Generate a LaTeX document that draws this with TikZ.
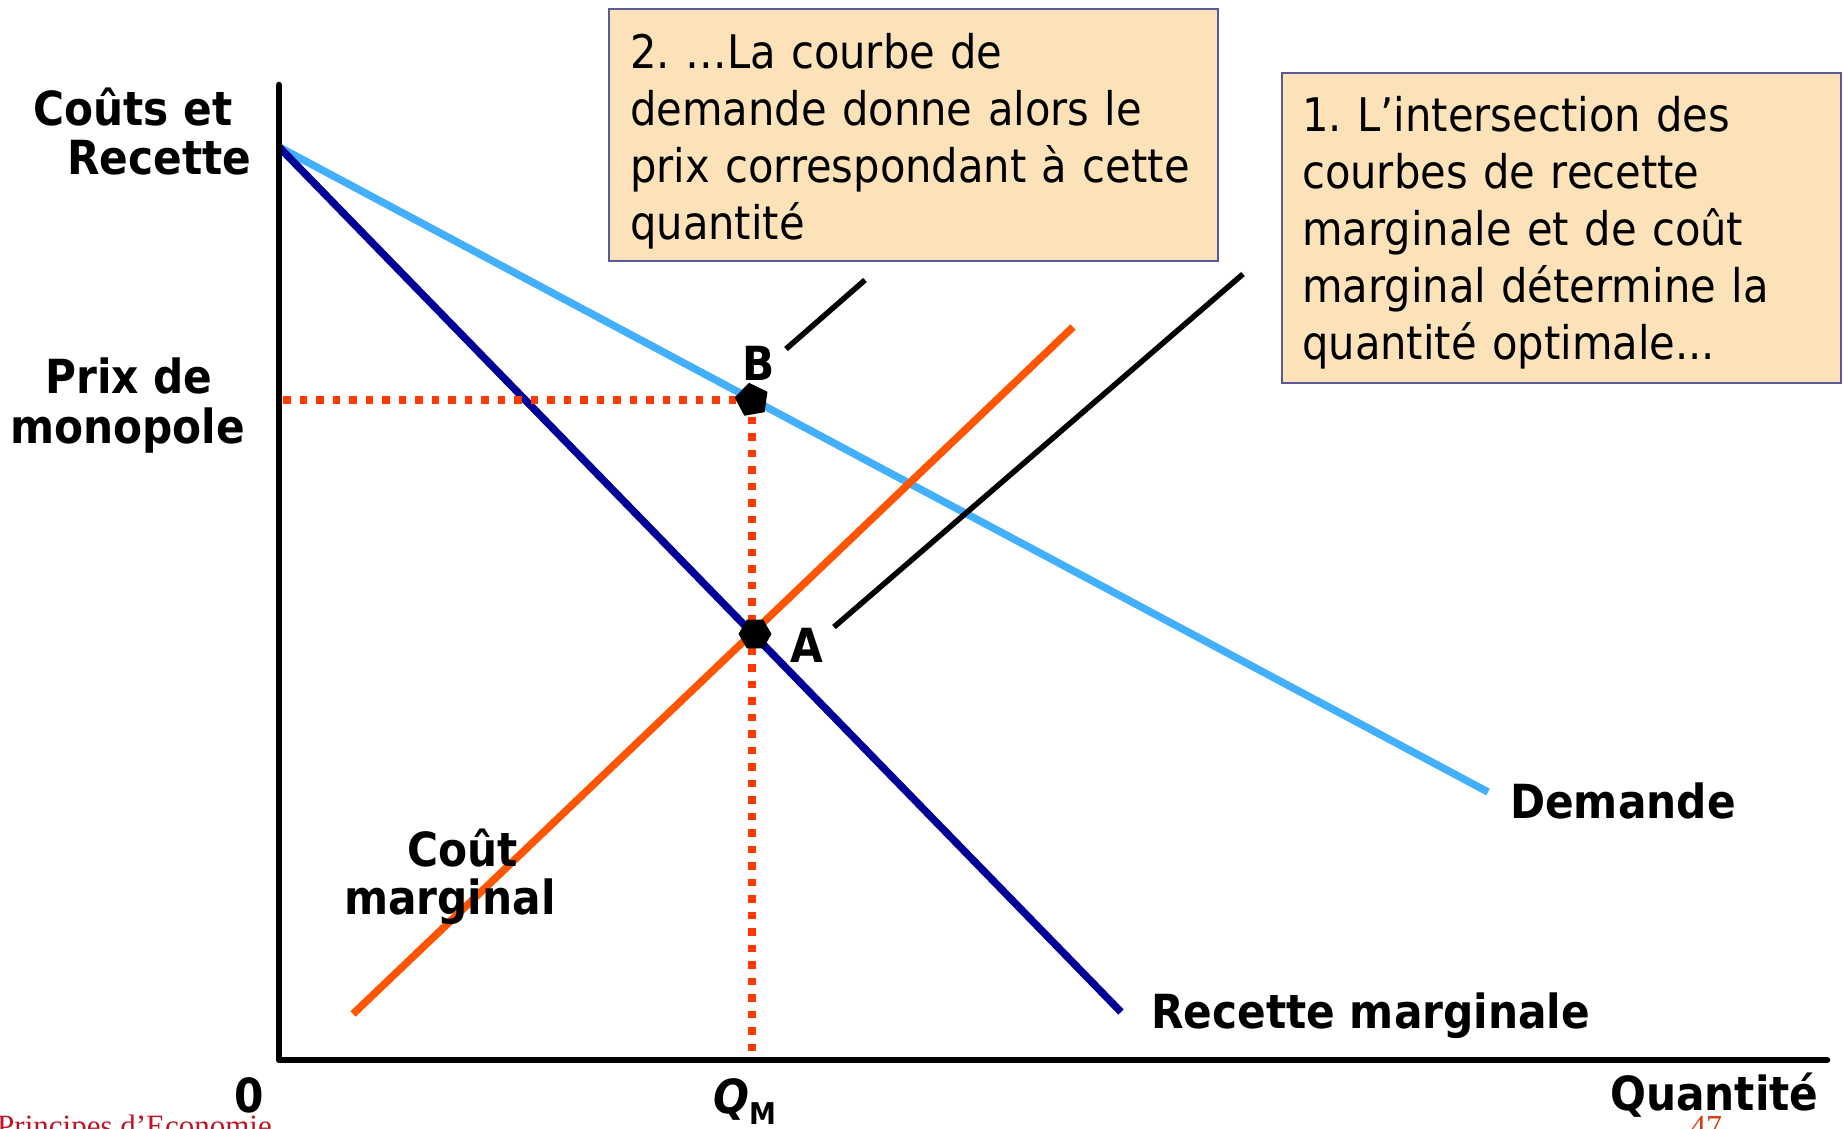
\documentclass[tikz,border=0pt]{standalone}
\usepackage{fontspec}
\setmainfont{DejaVu Sans Condensed}
\newfontfamily\footfont{Liberation Serif}
\usetikzlibrary{shapes.geometric}
\definecolor{demandc}{RGB}{66,176,255}
\definecolor{mrc}{RGB}{0,0,150}
\definecolor{mcc}{RGB}{255,84,0}
\definecolor{dotred}{RGB}{255,58,0}
\definecolor{boxfill}{RGB}{252,226,185}
\definecolor{boxline}{RGB}{90,90,155}
\definecolor{footred}{RGB}{190,20,40}
\definecolor{footorange}{RGB}{210,60,20}
\tikzset{
  lbl/.style={font=\fontsize{47}{50}\selectfont\bfseries, inner sep=0pt, anchor=base west},
  boxfr/.style={draw=boxline, fill=boxfill, line width=2pt, inner sep=0pt, anchor=north west},
  boxtxt/.style={font=\fontsize{46.3}{57}\selectfont\frenchspacing, inner sep=0pt, align=left, text width=600pt, anchor=base west},
  curve/.style={line width=7.5pt},
  leader/.style={line width=5.5pt, draw=black},
  dots/.style={line width=7.5pt, draw=dotred, dash pattern=on 7.5pt off 9pt},
  axisline/.style={line width=6.5pt, line join=round, line cap=round, draw=black},
  marker/.style={fill=black, inner sep=0pt, draw=none},
}
\begin{document}
\begin{tikzpicture}[x=1pt,y=-1pt]
\useasboundingbox (0,0) rectangle (1845,1128);
% coordinates
\coordinate (yTop) at (279,85);
\coordinate (O) at (279,1060);
\coordinate (xEnd) at (1827,1060);
\coordinate (top) at (279,147);
\coordinate (Dend) at (1488,792);
\coordinate (MRend) at (1121,1012);
\coordinate (MCa) at (353,1014);
\coordinate (MCb) at (1073,327);
\coordinate (yP) at (283,400);
\coordinate (Bpt) at (752,400);
\coordinate (xQ) at (752,1058);
\coordinate (L2a) at (786,349);
\coordinate (L2b) at (865,280);
\coordinate (L1a) at (834,627);
\coordinate (L1b) at (1243,274);
% boxes
\node[boxfr, minimum width=609pt, minimum height=252pt] (box2) at (608,8) {};
\node[boxtxt] (txt2) at (630,68) {2. …La courbe de\\demande donne alors le\\prix correspondant à cette\\quantité};
\node[boxfr, minimum width=559pt, minimum height=310pt] (box1) at (1281,72) {};
\node[boxtxt] (txt1) at (1302,131) {1. L’intersection des\\courbes de recette\\marginale et de coût\\marginal détermine la\\quantité optimale...};
% curves
\draw[curve, draw=demandc] (top) -- (Dend);
\draw[curve, draw=mrc] (top) -- (MRend);
\draw[curve, draw=mcc] (MCa) -- (MCb);
% dotted
\draw[dots] (yP) -- (Bpt);
\draw[dots] (Bpt) -- (xQ);
% axes
\draw[axisline] (yTop) -- (O) -- (xEnd);
% leaders
\draw[leader] (L2a) -- (L2b);
\draw[leader] (L1a) -- (L1b);
% markers
\node[marker, regular polygon, regular polygon sides=6, minimum size=33pt] (ptA) at (755,634) {};
\node[marker, regular polygon, regular polygon sides=5, minimum size=35pt, rotate=10] (ptB) at (752,400) {};
% labels
\node[lbl] (lcr1) at (33,125) {Coûts et};
\node[lbl] (lcr2) at (67,174) {Recette};
\node[lbl] (lpm1) at (45,393) {Prix de};
\node[lbl] (lpm2) at (10,443) {monopole};
\node[lbl] (lA) at (790,662) {A};
\node[lbl] (lB) at (742,380) {B};
\node[lbl] (lD) at (1510,818) {Demande};
\node[lbl] (lRM) at (1151,1028) {Recette marginale};
\node[lbl] (lCM1) at (407,866) {Coût};
\node[lbl] (lCM2) at (344,914) {marginal};
\node[lbl, anchor=base] (l0) at (249,1112) {0};
\node[lbl] (lQ) at (713,1113) {\textit{Q}\raisebox{-11pt}{\fontsize{30}{30}\selectfont M}};
\node[lbl] (lQt) at (1610,1110) {Quantité};
% footer (cut by page edge, as in the reference)
\begin{scope}
\clip (0,0) rectangle (1845,1128);
\node[inner sep=0pt, anchor=base west, font=\footfont\fontsize{31}{31}\selectfont, text=footred] (foot) at (-3,1136) {Principes d’Economie};
\node[inner sep=0pt, anchor=base west, font=\footfont\fontsize{32}{32}\selectfont, text=footorange] (page) at (1690,1137) {47};
\end{scope}
\end{tikzpicture}
\end{document}
